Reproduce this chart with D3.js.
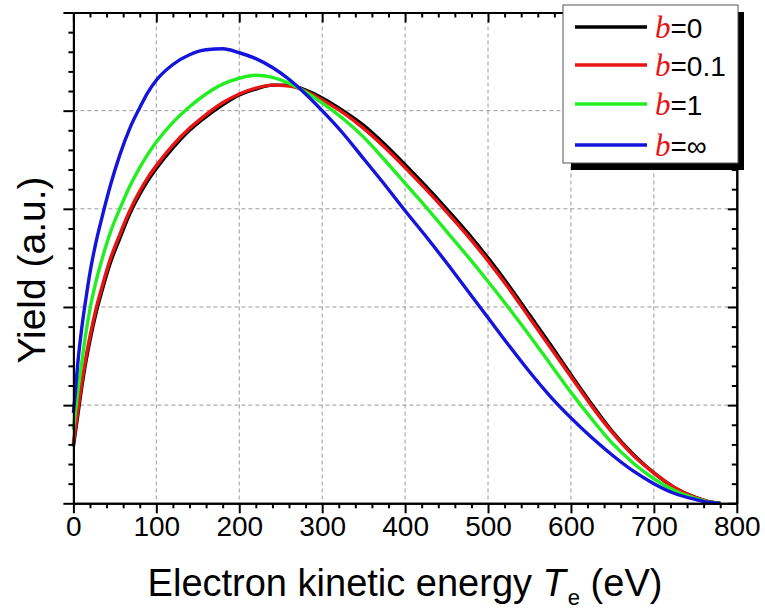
<!DOCTYPE html>
<html>
<head>
<meta charset="utf-8">
<script src="https://cdn.jsdelivr.net/npm/d3@7"></script>
<style>
  body { margin: 0; background: #fff; }
  svg { display: block; }
</style>
</head>
<body>
<svg id="chart" width="765" height="613"></svg>
<script>
// Electron kinetic energy grid (eV)
const energy = [0, 2, 5, 10, 15, 20, 27, 35, 45, 56, 68, 80, 90, 100, 120, 140, 160, 180, 200,
  220, 240, 260, 280, 300, 325, 350, 375, 400, 425, 450, 475, 500, 525, 550, 575, 600, 625,
  650, 675, 700, 725, 750, 765, 780];

// Yield (arbitrary units) for each value of b
const yieldB0 = [0.58, 0.70, 0.88, 1.18, 1.44, 1.66, 1.93, 2.18, 2.46, 2.70, 2.95, 3.15, 3.29, 3.41,
  3.62, 3.80, 3.94, 4.06, 4.16, 4.22, 4.26, 4.26, 4.21, 4.13, 4.00, 3.85, 3.66, 3.45, 3.23, 3.00,
  2.76, 2.50, 2.22, 1.92, 1.62, 1.31, 1.01, 0.73, 0.50, 0.31, 0.16, 0.06, 0.02, 0];
const yieldB01 = [0.61, 0.74, 0.92, 1.22, 1.48, 1.70, 1.97, 2.22, 2.50, 2.74, 2.98, 3.18, 3.32, 3.44,
  3.65, 3.82, 3.96, 4.08, 4.17, 4.23, 4.26, 4.25, 4.20, 4.11, 3.98, 3.82, 3.63, 3.42, 3.20, 2.97,
  2.73, 2.47, 2.19, 1.89, 1.59, 1.29, 0.99, 0.72, 0.49, 0.31, 0.16, 0.06, 0.02, 0];
const yieldB1 = [0.75, 0.90, 1.12, 1.43, 1.73, 1.98, 2.25, 2.50, 2.77, 3.00, 3.23, 3.42, 3.56, 3.68,
  3.88, 4.04, 4.17, 4.27, 4.33, 4.36, 4.34, 4.28, 4.19, 4.08, 3.92, 3.73, 3.50, 3.26, 3.02, 2.77,
  2.52, 2.26, 1.99, 1.71, 1.42, 1.13, 0.86, 0.61, 0.41, 0.25, 0.13, 0.05, 0.015, 0];
const yieldBInf = [0.92, 1.10, 1.40, 1.78, 2.08, 2.35, 2.65, 2.93, 3.25, 3.55, 3.82, 4.03, 4.19, 4.31,
  4.47, 4.57, 4.62, 4.63, 4.59, 4.53, 4.44, 4.32, 4.17, 4.00, 3.77, 3.51, 3.25, 2.98, 2.72, 2.45,
  2.17, 1.89, 1.61, 1.34, 1.09, 0.87, 0.67, 0.49, 0.33, 0.20, 0.10, 0.04, 0.012, 0];

const seriesLabels = ["0", "0.1", "1", "\u221E"];
const seriesColors = ["#000000", "#e81414", "#22ee22", "#1414dc"];
const seriesValues = [yieldB0, yieldB01, yieldB1, yieldBInf];

const xMajorTicks = [0, 100, 200, 300, 400, 500, 600, 700, 800];
const yMajorTicks = [0, 1, 2, 3, 4, 5];

const svg = d3.select("#chart");
const plot = { left: 73.4, right: 736.8, top: 12.5, bottom: 503.3 };

const x = d3.scaleLinear().domain([0, 800]).range([plot.left, plot.right]);
const y = d3.scaleLinear().domain([0, 5]).range([plot.bottom, plot.top]);

const xMinor = d3.range(0, 801, 20).filter(v => v % 100 !== 0);
const yMinor = d3.range(0, 5.001, 0.2).map(v => +v.toFixed(1)).filter(v => Math.abs(v - Math.round(v)) > 1e-6);

// dashed grid at the major ticks
const grid = svg.append("g").attr("stroke", "#9a9a9a").attr("stroke-width", 1).attr("stroke-dasharray", "4,3");
grid.selectAll("line.gx").data(xMajorTicks.slice(1, -1)).join("line")
  .attr("x1", d => x(d)).attr("x2", d => x(d)).attr("y1", plot.top).attr("y2", plot.bottom);
grid.selectAll("line.gy").data(yMajorTicks.slice(1, -1)).join("line")
  .attr("x1", plot.left).attr("x2", plot.right).attr("y1", d => y(d)).attr("y2", d => y(d));

// curves
const line = d3.line()
  .x(d => x(d[0]))
  .y(d => y(d[1]))
  .curve(d3.curveMonotoneX);

seriesValues.forEach((vals, i) => {
  svg.append("path")
    .datum(energy.map((e, j) => [e, vals[j]]))
    .attr("fill", "none")
    .attr("stroke", seriesColors[i])
    .attr("stroke-width", 3.4)
    .attr("stroke-linejoin", "round")
    .attr("d", line);
});

// axes
function styleAxis(g) {
  g.select(".domain").attr("stroke", "#000").attr("stroke-width", 2);
  g.selectAll(".tick line").attr("stroke", "#000").attr("stroke-width", 2);
  g.selectAll(".tick text").attr("font-family", "'Liberation Sans', Arial, sans-serif")
    .attr("font-size", 28).attr("fill", "#000");
}

// bottom
svg.append("g").attr("transform", `translate(0,${plot.bottom})`)
  .call(d3.axisBottom(x).tickValues(xMinor).tickSize(5).tickSizeOuter(0).tickFormat(""))
  .call(styleAxis);
svg.append("g").attr("transform", `translate(0,${plot.bottom})`)
  .call(d3.axisBottom(x).tickValues(xMajorTicks).tickSize(10).tickSizeOuter(0).tickPadding(3).tickFormat(d3.format("d")))
  .call(styleAxis);
// top (ticks inward)
svg.append("g").attr("transform", `translate(0,${plot.top})`)
  .call(d3.axisTop(x).tickValues(xMinor).tickSize(-5).tickSizeOuter(0).tickFormat(""))
  .call(styleAxis);
svg.append("g").attr("transform", `translate(0,${plot.top})`)
  .call(d3.axisTop(x).tickValues(xMajorTicks).tickSize(-10).tickSizeOuter(0).tickFormat(""))
  .call(styleAxis);
// left (ticks outward, no labels)
svg.append("g").attr("transform", `translate(${plot.left},0)`)
  .call(d3.axisLeft(y).tickValues(yMinor).tickSize(5).tickSizeOuter(0).tickFormat(""))
  .call(styleAxis);
svg.append("g").attr("transform", `translate(${plot.left},0)`)
  .call(d3.axisLeft(y).tickValues(yMajorTicks).tickSize(10).tickSizeOuter(0).tickFormat(""))
  .call(styleAxis);
// right (ticks inward)
svg.append("g").attr("transform", `translate(${plot.right},0)`)
  .call(d3.axisRight(y).tickValues(yMinor).tickSize(-5).tickSizeOuter(0).tickFormat(""))
  .call(styleAxis);
svg.append("g").attr("transform", `translate(${plot.right},0)`)
  .call(d3.axisRight(y).tickValues(yMajorTicks).tickSize(-9).tickSizeOuter(0).tickFormat(""))
  .call(styleAxis);

// axis titles
const xt = svg.append("text")
  .attr("x", 405).attr("y", 596)
  .attr("text-anchor", "middle")
  .attr("font-family", "'Liberation Sans', Arial, sans-serif")
  .attr("font-size", 38).attr("fill", "#000");
xt.append("tspan").text("Electron kinetic energy ");
xt.append("tspan").attr("font-style", "italic").text("T");
xt.append("tspan").attr("font-size", 22).attr("dy", 9).attr("dx", 2).text("e");
xt.append("tspan").attr("dy", -9).text(" (eV)");

svg.append("text")
  .attr("transform", "translate(45,270) rotate(-90)")
  .attr("text-anchor", "middle")
  .attr("font-family", "'Liberation Sans', Arial, sans-serif")
  .attr("font-size", 39).attr("fill", "#000")
  .text("Yield (a.u.)");

// legend with drop shadow
const lg = { x: 563, y: 5, w: 175, h: 158 };
svg.append("rect").attr("x", lg.x + 8).attr("y", lg.y + 7).attr("width", lg.w - 2).attr("height", lg.h)
  .attr("fill", "#000");
svg.append("rect").attr("x", lg.x).attr("y", lg.y).attr("width", lg.w).attr("height", lg.h)
  .attr("fill", "#fff").attr("stroke", "#555").attr("stroke-width", 1);

const rowY = [27, 65, 104, 145];
seriesLabels.forEach((lab, i) => {
  svg.append("line")
    .attr("x1", 575).attr("x2", 647).attr("y1", rowY[i]).attr("y2", rowY[i])
    .attr("stroke", seriesColors[i]).attr("stroke-width", 3.4);
  const t = svg.append("text").attr("x", 655).attr("y", rowY[i] + 11)
    .attr("font-family", "'Liberation Sans', Arial, sans-serif")
    .attr("font-size", 28).attr("fill", "#000");
  t.append("tspan").attr("font-family", "'Liberation Serif', 'Times New Roman', serif")
    .attr("font-style", "italic").attr("font-size", 31).attr("fill", "#e81414").text("b");
  t.append("tspan").text("=" + lab);
});
</script>
</body>
</html>
